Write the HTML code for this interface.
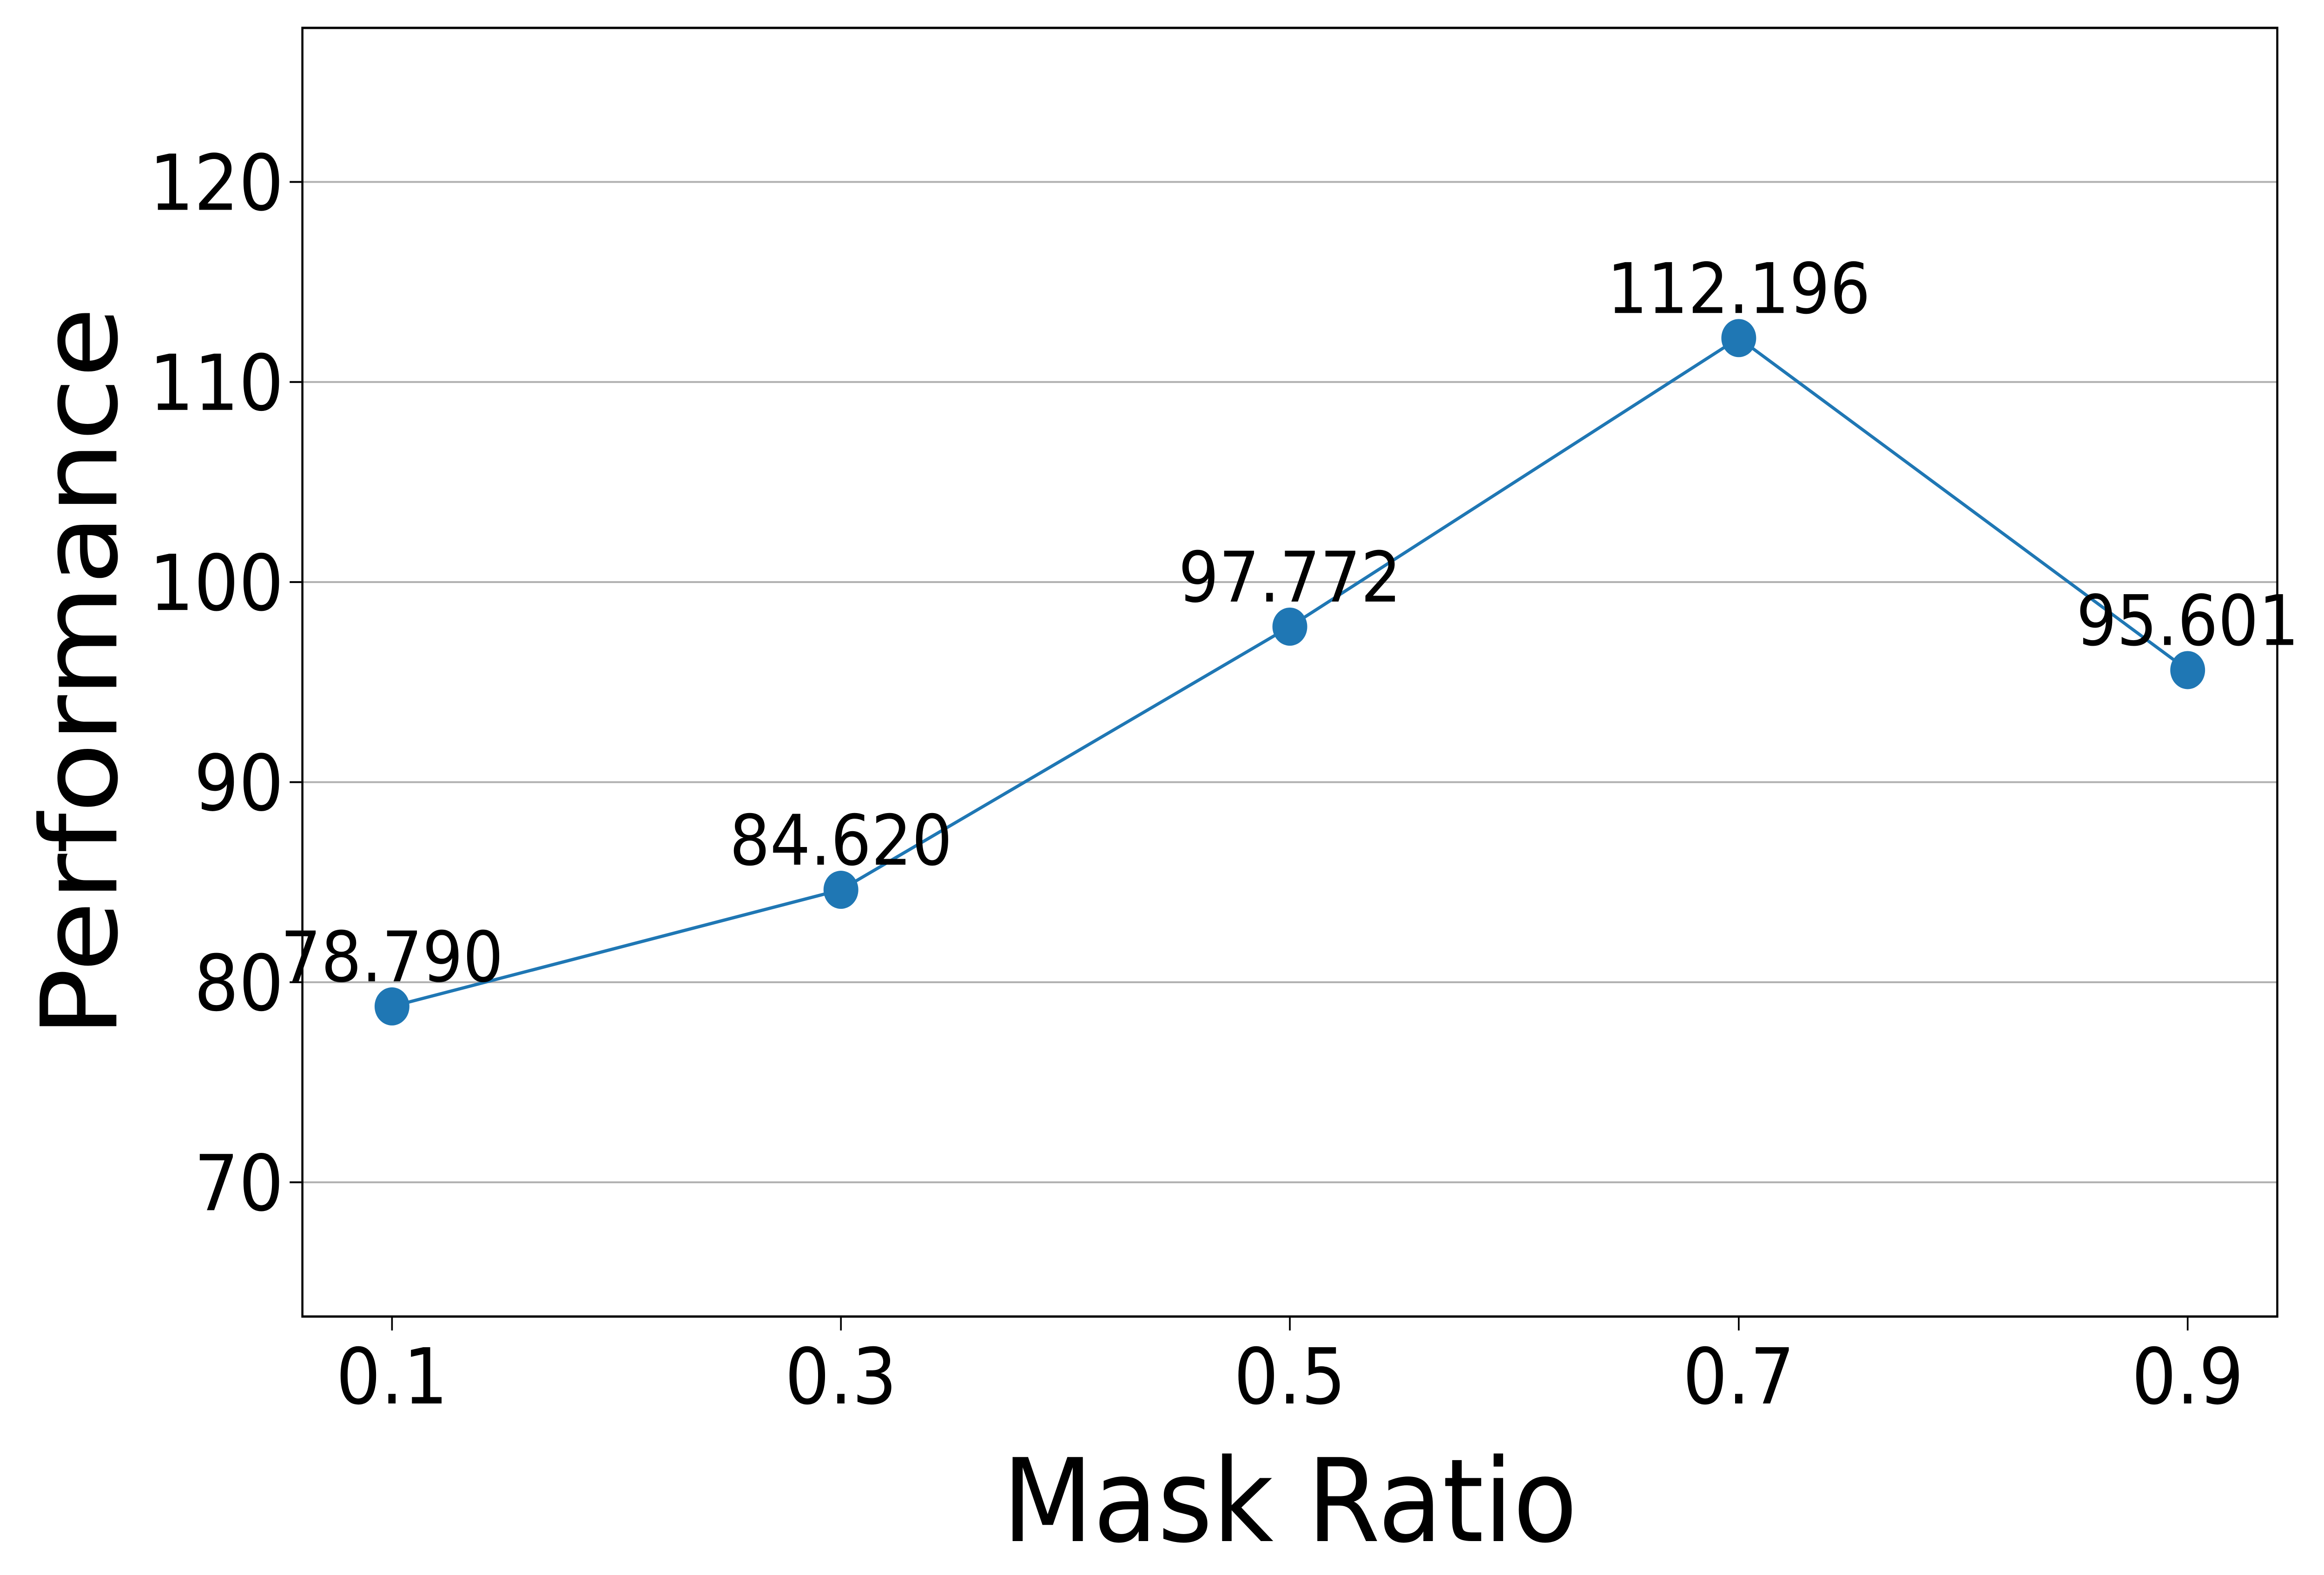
<!DOCTYPE html>
<html><head><meta charset="utf-8"><style>
html,body{margin:0;padding:0;background:#fff;width:100%;height:100%;overflow:hidden;}
svg{display:block;position:absolute;left:0;top:0;width:100%;height:100%;font-family:"DejaVu Sans","Liberation Sans",sans-serif;}
</style></head><body>
<svg id="chart" viewBox="0 0 5472 3388" preserveAspectRatio="none" xmlns="http://www.w3.org/2000/svg">
<rect width="5472" height="3388" fill="#fff"/>
<g id="grid"></g>
<g id="series"></g>
<g id="axes"></g>
<text x="3037" y="3315" font-size="248" text-anchor="middle" fill="#000">Mask Ratio</text>
<text x="274" y="1446" font-size="248" text-anchor="middle" fill="#000" transform="rotate(-90 274 1446)">Performance</text>
</svg>
<script>
const categories = ["0.1","0.3","0.5","0.7","0.9"];
const values = [78.790, 84.620, 97.772, 112.196, 95.601];
const valueLabels = ["78.790","84.620","97.772","112.196","95.601"];
const yTicks = [70, 80, 90, 100, 110, 120];
const yTickLabels = ["70","80","90","100","110","120"];

const NS = "http://www.w3.org/2000/svg";
const L = 712, R = 5362, T = 60, B = 2832;
const yMin = 63.29, yMax = 127.7;
const x0 = 923, xStep = 1057;
function xPos(i){ return x0 + i * xStep; }
function yPos(v){ return B - (v - yMin) / (yMax - yMin) * (B - T); }
function mk(tag, attrs, parent){
  const e = document.createElementNS(NS, tag);
  for (const k in attrs) e.setAttribute(k, attrs[k]);
  parent.appendChild(e);
  return e;
}
const grid = document.getElementById('grid');
const axes = document.getElementById('axes');
const series = document.getElementById('series');

yTicks.forEach((t, i) => {
  const y = yPos(t);
  const g = mk('line', {x1:L, x2:R, y1:y, y2:y, stroke:'#b0b0b0', 'stroke-width':4}, grid);
  
  
  const tk = mk('line', {x1:L-30, x2:L, y1:y, y2:y, stroke:'#000', 'stroke-width':4}, axes);
  
  
  const tx = mk('text', {x:L-44, y:y+60, 'font-size':166, 'text-anchor':'end', fill:'#000'}, axes);
  tx.textContent = yTickLabels[i];
  
  
});
categories.forEach((c, i) => {
  const x = xPos(i);
  const tk = mk('line', {x1:x, x2:x, y1:B, y2:B+30, stroke:'#000', 'stroke-width':4}, axes);
  
  
  const tx = mk('text', {x:x, y:3019, 'font-size':166, 'text-anchor':'middle', fill:'#000'}, axes);
  tx.textContent = c;
  
  
});
const frame = mk('rect', {x:L, y:T, width:R-L, height:B-T, fill:'none', stroke:'#000', 'stroke-width':5}, axes);



const pts = values.map((v, i) => xPos(i) + ',' + yPos(v)).join(' ');
const line = mk('polyline', {points:pts, fill:'none', stroke:'#1f77b4', 'stroke-width':7}, series);


values.forEach((v, i) => {
  const c = mk('circle', {cx:xPos(i), cy:yPos(v), r:41, fill:'#1f77b4'}, series);
  
  
  const t = mk('text', {x:xPos(i), y:yPos(v)-54, 'font-size':150, 'text-anchor':'middle', fill:'#000'}, series);
  t.textContent = valueLabels[i];
  
  
});
</script>
</body></html>
